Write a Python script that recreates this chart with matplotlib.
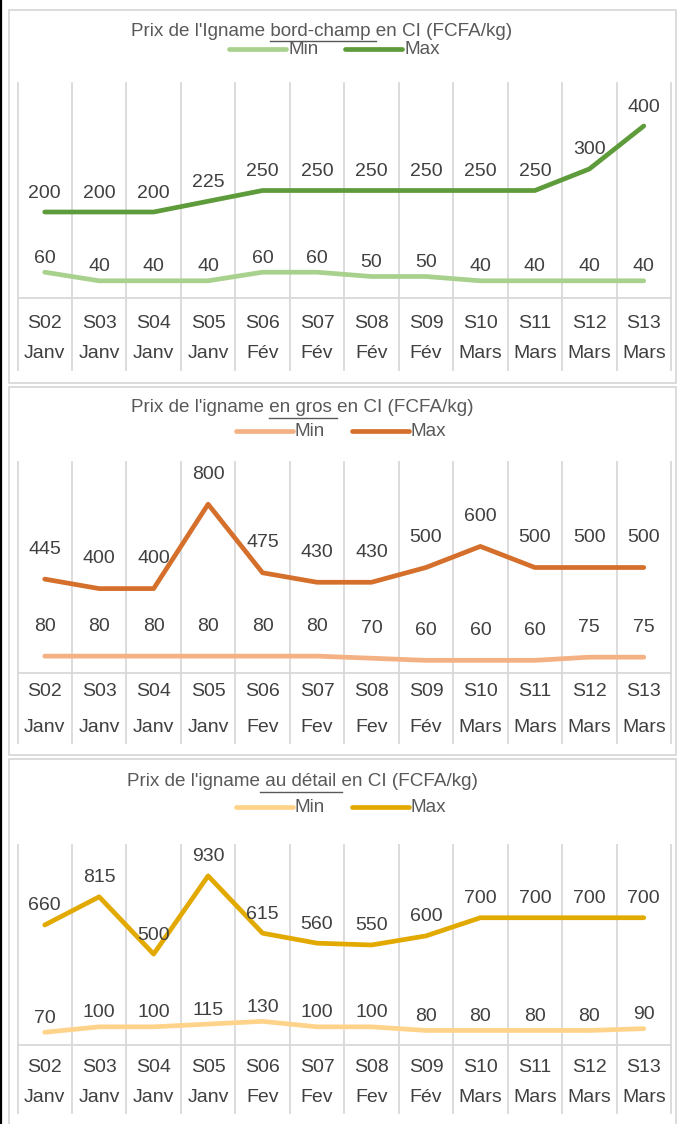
import matplotlib
matplotlib.use("Agg")
import matplotlib.pyplot as plt
import matplotlib.transforms as mtransforms
from matplotlib.lines import Line2D
from matplotlib.patches import Rectangle
import numpy as np

# ── data ─────────────────────────────────────────────
weeks = ["S02", "S03", "S04", "S05", "S06", "S07", "S08", "S09", "S10", "S11", "S12", "S13"]
months_champ = ["Janv", "Janv", "Janv", "Janv", "Fév", "Fév", "Fév", "Fév", "Mars", "Mars", "Mars", "Mars"]
months_gros = ["Janv", "Janv", "Janv", "Janv", "Fev", "Fev", "Fev", "Fév", "Mars", "Mars", "Mars", "Mars"]
months_detail = ["Janv", "Janv", "Janv", "Janv", "Fev", "Fev", "Fev", "Fév", "Mars", "Mars", "Mars", "Mars"]

champ_min = [60, 40, 40, 40, 60, 60, 50, 50, 40, 40, 40, 40]
champ_max = [200, 200, 200, 225, 250, 250, 250, 250, 250, 250, 300, 400]
gros_min = [80, 80, 80, 80, 80, 80, 70, 60, 60, 60, 75, 75]
gros_max = [445, 400, 400, 800, 475, 430, 430, 500, 600, 500, 500, 500]
detail_min = [70, 100, 100, 115, 130, 100, 100, 80, 80, 80, 80, 90]
detail_max = [660, 815, 500, 930, 615, 560, 550, 600, 700, 700, 700, 700]

# ── layout (pixels, y from top) ──────────────────────
W, H = 683, 1124
FONT = "Liberation Sans"
GRID = "#d9d9d9"
TXT = "#404040"
TITLE_C = "#595959"
X_LEFT, X_RIGHT = 17.5, 671
LBL_SIZE = 14
TITLE_SIZE = 13.6

panels = [
    dict(title=("Prix de l'Igname ", "bord-champ ", "en CI (FCFA/kg)"), title_x=131,
         frame=(10, 383), title_y=31, legend_y=49, legend_x=229,
         top=83, bottom=298, week_y=324, month_y=354, div_y=370, ymax=500,
         vmin=champ_min, vmax=champ_max, months=months_champ,
         c_min="#a9d18e", c_max="#5e9b3b", off_min=14, off_max=19),
    dict(title=("Prix de l'igname ", "en gros ", "en CI (FCFA/kg)"), title_x=131,
         frame=(387, 755), title_y=408, legend_y=431, legend_x=236,
         top=462, bottom=673, week_y=692, month_y=728, div_y=743, ymax=1000,
         vmin=gros_min, vmax=gros_max, months=months_gros,
         c_min="#f4b183", c_max="#d5702c", off_min=30, off_max=30),
    dict(title=("Prix de l'igname", " au détail ", "en CI (FCFA/kg)"), title_x=127,
         frame=(759, 1140), title_y=782, legend_y=807, legend_x=236,
         top=845, bottom=1045, week_y=1067, month_y=1098, div_y=1113, ymax=1100,
         vmin=detail_min, vmax=detail_max, months=months_detail,
         c_min="#ffd38a", c_max="#e2a900", off_min=14, off_max=19),
]

fig = plt.figure(figsize=(W / 100, H / 100), dpi=100)
fig.patch.set_facecolor("white")
renderer = fig.canvas.get_renderer()


def fx(x):
    return x / W


def fy(y):
    return 1 - y / H


def text_width(s, size):
    # width in px, trailing spaces kept by measuring against a sentinel
    t1 = fig.text(0, 0, s + "|", fontsize=size, family=FONT)
    t2 = fig.text(0, 0, "|", fontsize=size, family=FONT)
    w = t1.get_window_extent(renderer).width - t2.get_window_extent(renderer).width
    t1.remove()
    t2.remove()
    return w


# black edge on the far left
fig.add_artist(Line2D([fx(1), fx(1)], [0, 1], color="black", lw=1.6))

x = np.arange(len(weeks))

for p in panels:
    y0, y1 = p["frame"]
    fig.add_artist(Rectangle((fx(9), fy(y1)), fx(676) - fx(9), fy(y0) - fy(y1),
                             fill=False, edgecolor=GRID, lw=1.3))

    # title with underlined middle part
    pre, mid, post = p["title"]
    fig.text(fx(p["title_x"]), fy(p["title_y"]), pre + mid + post, fontsize=TITLE_SIZE,
             family=FONT, color=TITLE_C, ha="left", va="center")
    u0 = p["title_x"] + text_width(pre, TITLE_SIZE)
    u1 = u0 + text_width(mid, TITLE_SIZE)
    fig.add_artist(Line2D([fx(u0), fx(u1)], [fy(p["title_y"] + 10)] * 2,
                          color=TITLE_C, lw=1.0))

    # legend
    lx, ly = p["legend_x"], p["legend_y"]
    for j, (name, col) in enumerate([("Min", p["c_min"]), ("Max", p["c_max"])]):
        hx = lx + j * 116
        fig.add_artist(Line2D([fx(hx), fx(hx + 57)], [fy(ly)] * 2, color=col,
                              lw=3.4, solid_capstyle="round"))
        fig.text(fx(hx + 59), fy(ly), name, fontsize=TITLE_SIZE, family=FONT,
                 color=TITLE_C, ha="left", va="center")

    # plot area
    ax = fig.add_axes([fx(X_LEFT), fy(p["bottom"]), fx(X_RIGHT) - fx(X_LEFT),
                       fy(p["top"]) - fy(p["bottom"])])
    ax.set_xlim(-0.5, len(weeks) - 0.5)
    ax.set_ylim(0, p["ymax"])
    for s in ["top", "left", "right"]:
        ax.spines[s].set_visible(False)
    ax.spines["bottom"].set_color(GRID)
    ax.spines["bottom"].set_linewidth(1.3)
    ax.set_xticks([])
    ax.set_yticks([])
    ax.patch.set_alpha(0)

    h = p["bottom"] - p["top"]
    for b in np.arange(len(weeks) + 1) - 0.5:
        ax.axvline(b, ymin=-(p["div_y"] - p["bottom"]) / h, ymax=1, color=GRID,
                   lw=1.3, clip_on=False, zorder=0)

    trans = mtransforms.blended_transform_factory(ax.transData, ax.transAxes)
    for i in x:
        ax.text(i, -(p["week_y"] - p["bottom"]) / h, weeks[i], transform=trans,
                ha="center", va="center", fontsize=LBL_SIZE, family=FONT, color=TXT)
        ax.text(i, -(p["month_y"] - p["bottom"]) / h, p["months"][i], transform=trans,
                ha="center", va="center", fontsize=LBL_SIZE, family=FONT, color=TXT)

    ax.plot(x, p["vmin"], color=p["c_min"], lw=3.4, solid_capstyle="round",
            solid_joinstyle="round", zorder=3)
    ax.plot(x, p["vmax"], color=p["c_max"], lw=3.4, solid_capstyle="round",
            solid_joinstyle="round", zorder=3)

    for vals, off in [(p["vmin"], p["off_min"]), (p["vmax"], p["off_max"])]:
        for i, v in zip(x, vals):
            ax.annotate(str(v), (i, v), xytext=(0, off * 0.72), textcoords="offset points",
                        ha="center", va="center", fontsize=LBL_SIZE, family=FONT,
                        color=TXT, zorder=4)

fig.savefig("out.png", dpi=100, facecolor="white")
